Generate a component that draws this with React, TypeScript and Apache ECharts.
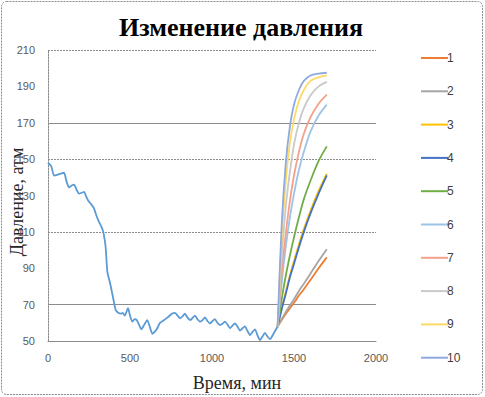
import React, { useEffect, useRef } from "react";
import * as echarts from "echarts";

const baseTime = [0, 20, 37, 60, 77, 98, 112, 128, 145, 159, 175, 189, 205, 220, 235, 250, 265, 280, 295, 311, 325, 337, 346, 352, 362, 378, 392, 403, 413, 428, 443, 455, 468, 488, 500, 514, 528, 541, 555, 569, 587, 605, 620, 636, 660, 683, 700, 730, 755, 774, 790, 805, 820, 835, 850, 866, 880, 896, 911, 927, 942, 957, 972, 988, 1003, 1018, 1033, 1049, 1064, 1079, 1095, 1110, 1125, 1140, 1155, 1171, 1186, 1201, 1216, 1232, 1247, 1262, 1278, 1293, 1308, 1323, 1338, 1354, 1375, 1400];
const basePressure = [148, 146, 141, 141.5, 142, 142.5, 138, 134.5, 135.5, 136, 133, 131, 131.5, 132, 129, 126.5, 125, 123, 119, 115.5, 113, 110, 105.5, 101, 88, 82, 76, 71, 67, 65.5, 65, 65.5, 64, 68, 64, 60.6, 62, 61.5, 59, 56.4, 59, 61.5, 58, 54, 56, 60, 61, 63, 65, 65.5, 64, 62.5, 63.5, 65, 63, 61.5, 62.5, 64, 62, 60.6, 61.5, 63, 61, 59.7, 61, 62, 60, 58.8, 59.5, 60.6, 59, 57, 58.5, 59.7, 58, 55.7, 57, 58, 55.5, 53.3, 55, 56.4, 53, 50.5, 52.5, 54.5, 52.5, 51, 54, 58];

const recoveryTime = [1400, 1425, 1450, 1475, 1500, 1530, 1560, 1600, 1650, 1700];
const curve1 = [58, 61.5, 65, 68, 71, 75, 78.5, 83.5, 90, 96];
const curve2 = [58, 62, 66, 69.5, 73, 77.5, 81.5, 87, 94, 100.5];
const curve3 = [58, 68, 77, 86, 94, 103, 111.5, 121.5, 132.5, 142];
const curve4 = [58, 67.5, 76, 85, 92.5, 101.5, 110, 120, 131, 141];
const curve5 = [58, 73, 86, 97, 107, 118, 128, 138, 149, 157];
const curve6 = [58, 82, 102, 118, 131, 144, 154, 165, 174, 180];
const curve7 = [58, 87, 109, 127, 141, 154, 164, 173, 180.5, 185.5];
const curve8 = [58, 96, 124, 143, 158, 170, 178, 185, 190, 192.5];
const curve9 = [58, 107, 138, 159, 172, 182, 188, 193, 195, 196];
const curve10 = [58, 114, 148, 168, 180, 188, 193, 196, 197, 197.5];

const curves = [curve1, curve2, curve3, curve4, curve5, curve6, curve7, curve8, curve9, curve10];
const seriesNames = ["1", "2", "3", "4", "5", "6", "7", "8", "9", "10"];
const curveColors = ["#ED7D31", "#A5A5A5", "#FFC000", "#4472C4", "#70AD47", "#9DC3E6", "#F4A08A", "#C9C9C9", "#FFD966", "#8FAADC"];
const yTicks = { min: 50, max: 210, interval: 20 };
const xTicks = { min: 0, max: 2000, interval: 500 };
const gridValues = [210, 170, 150, 110, 70];
const gridDotted = [true, false, true, true, false];

export default function App() {
  const ref = useRef<HTMLDivElement>(null);
  useEffect(() => {
    if (!ref.current) return;
    const chart = echarts.init(ref.current, null, { renderer: "svg" });
    const labelFont = "'Liberation Sans', Arial, sans-serif";
    const serif = "'Liberation Serif', 'Times New Roman', serif";
    const series: any[] = [
      {
        type: "line",
        name: "base",
        data: baseTime.map((t, i) => [t, basePressure[i]]),
        showSymbol: false,
        smooth: 0.2,
        lineStyle: { color: "#5B9BD5", width: 1.8 },
        itemStyle: { color: "#5B9BD5" },
        z: 3,
        markLine: {
          silent: true,
          symbol: ["none", "none"],
          label: { show: false },
          z: 1,
          data: gridValues.map((v, i) => ({
            yAxis: v,
            lineStyle: { color: "#8c8c8c", width: 1, type: gridDotted[i] ? [2, 1] : "solid" },
          })),
        },
      },
    ];
    curves.forEach((c, k) => {
      series.push({
        type: "line",
        name: seriesNames[k],
        data: recoveryTime.map((t, i) => [t, c[i]]),
        showSymbol: false,
        smooth: 0.3,
        lineStyle: { color: curveColors[k], width: 1.8 },
        itemStyle: { color: curveColors[k] },
        z: 4,
      });
    });
    chart.setOption({
      animation: false,
      backgroundColor: "#ffffff",
      grid: { left: 48, right: 109, top: 50, bottom: 56 },
      legend: {
        data: seriesNames,
        orient: "vertical",
        left: 416,
        top: 46,
        icon: "rect",
        itemWidth: 27,
        itemHeight: 2,
        itemGap: 19.3,
        textStyle: { fontSize: 12, lineHeight: 14, color: "#404040", fontFamily: labelFont, padding: [0, 0, 0, -6] },
      },
      xAxis: {
        type: "value",
        min: xTicks.min,
        max: xTicks.max,
        interval: xTicks.interval,
        axisLine: { show: true, lineStyle: { color: "#8c8c8c" } },
        axisTick: { show: false },
        splitLine: { show: false },
        axisLabel: { margin: 11, fontSize: 11, color: "#595959", fontFamily: labelFont, formatter: (v: number) => String(v) },
      },
      yAxis: {
        type: "value",
        min: yTicks.min,
        max: yTicks.max,
        interval: yTicks.interval,
        axisLine: { show: true, lineStyle: { color: "#8c8c8c", type: [2, 1] } },
        axisTick: { show: false },
        splitLine: { show: false },
        axisLabel: { margin: 13, fontSize: 11, color: "#595959", fontFamily: labelFont, formatter: (v: number) => String(v) },
      },
      graphic: [
        {
          type: "rect",
          shape: { x: 1.5, y: 1.5, width: 481, height: 393, r: 5 },
          style: { fill: "none", stroke: "#8c8c8c", lineWidth: 1, lineDash: [2, 1] },
          silent: true,
        },
        {
          type: "text",
          x: 241,
          y: 27,
          style: {
            text: "Изменение давления",
            font: `bold 26px ${serif}`,
            fill: "#000000",
            textAlign: "center",
            textVerticalAlign: "middle",
          },
        },
        {
          type: "text",
          x: 237,
          y: 383,
          style: {
            text: "Время, мин",
            font: `18px ${serif}`,
            fill: "#262626",
            textAlign: "center",
            textVerticalAlign: "middle",
          },
        },
        {
          type: "text",
          x: 17,
          y: 202,
          rotation: Math.PI / 2,
          style: {
            text: "Давление, атм",
            font: `18px ${serif}`,
            fill: "#262626",
            textAlign: "center",
            textVerticalAlign: "middle",
          },
        },
      ],
      series,
    });
    return () => chart.dispose();
  }, []);
  return <div ref={ref} style={{ position: "absolute", left: 0, top: 0, width: 485, height: 397 }} />;
}
